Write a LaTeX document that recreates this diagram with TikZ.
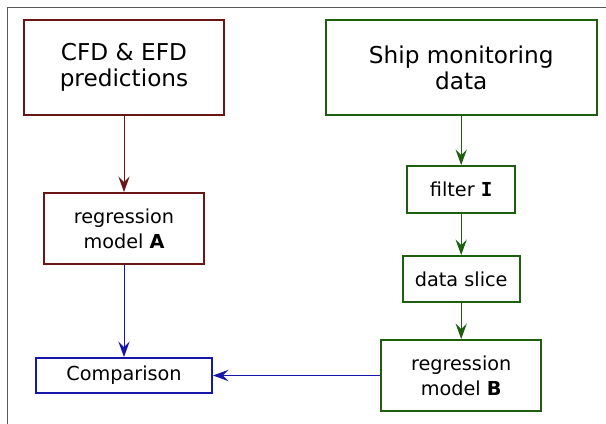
\documentclass[tikz,border=0pt]{standalone}
\usepackage{fontspec}
\setmainfont{DejaVu Sans}
\setmonofont{DejaVu Sans Mono}
\usepackage{xcolor}
\usepackage{tikz}
\usetikzlibrary{positioning, arrows.meta, calc}
\definecolor{cfdColor}{RGB}{105,22,22}
\definecolor{shipColor}{RGB}{30,95,15}
\definecolor{cmpColor}{RGB}{22,22,170}
\tikzset{
    box/.style={
        draw,
        line width=1.4pt,
        fill=white,
        align=center,
        inner sep=0pt
    },
    bigText/.style={font=\fontsize{16.5}{18.5}\selectfont},
    smallText/.style={font=\fontsize{13.7}{17.7}\selectfont},
    flow/.style={
        -{Stealth[length=11pt, width=8pt, inset=4pt]},
        line width=0.7pt
    }
}

\begin{document}
\begin{tikzpicture}
    \useasboundingbox (0,0) rectangle (15.15,-10.6);
    % 1. Frame
    \draw[gray!70!black, line width=0.7pt] (0.175,-10.6) |- (15.15,-0.175);

    % 2. Left column
    \node[box, bigText, draw=cfdColor, minimum width=5cm, minimum height=2.375cm] (cfd) at (3.1,-1.6875) {CFD \& EFD\\predictions};
    \node[box, smallText, draw=cfdColor, minimum width=4cm, minimum height=1.775cm] (regA) at (3.1,-5.7125) {regression\\model \textbf{A}};
    \node[box, smallText, draw=cmpColor, minimum width=4.4cm, minimum height=0.875cm] (comp) at (3.1,-9.3875) {Comparison};

    % 3. Right column
    \node[box, bigText, draw=shipColor, minimum width=6.775cm, minimum height=2.375cm] (ship) at (11.53,-1.6875) {Ship monitoring\\data};
    \node[box, smallText, draw=shipColor, minimum width=2.7cm, minimum height=1.175cm] (filt) at (11.53,-4.7375) {filter \texttt{\textbf{I}}};
    \node[box, smallText, draw=shipColor, minimum width=2.925cm, minimum height=1.15cm] (slice) at (11.53,-6.975) {data slice};
    \node[box, smallText, draw=shipColor, minimum width=4cm, minimum height=1.775cm] (regB) at (11.53,-9.3875) {regression\\model \textbf{B}};

    % 4. Arrows
    \draw[flow, cfdColor] (cfd) -- (regA);
    \draw[flow, cmpColor] (regA) -- (comp);
    \draw[flow, shipColor] (ship) -- (filt);
    \draw[flow, shipColor] (filt) -- (slice);
    \draw[flow, shipColor] (slice) -- (regB);
    \draw[flow, cmpColor] (regB) -- (comp);
\end{tikzpicture}
\end{document}
